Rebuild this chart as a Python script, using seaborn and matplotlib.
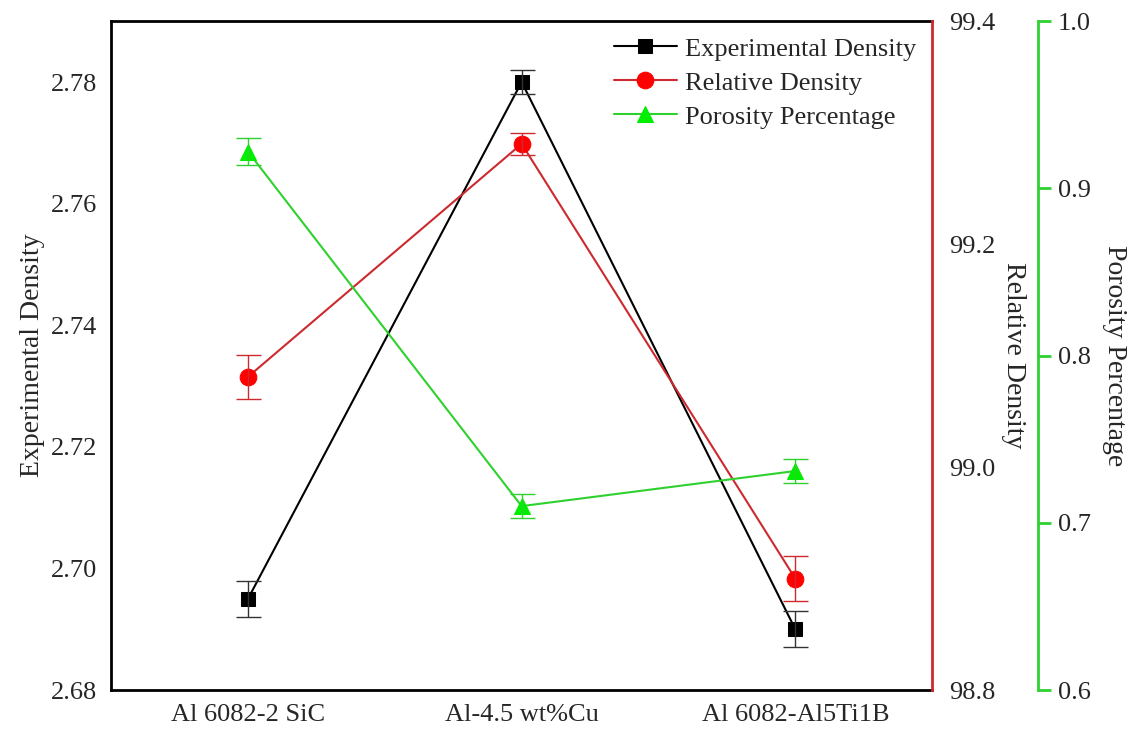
import matplotlib
matplotlib.use("Agg")
import matplotlib.pyplot as plt
import seaborn as sns
import pandas as pd

# --- data ---
samples = ["Al 6082-2 SiC", "Al-4.5 wt%Cu", "Al 6082-Al5Ti1B"]
exp_density = [2.695, 2.780, 2.690]
exp_err = [0.003, 0.002, 0.003]
rel_density = [99.081, 99.290, 98.900]
rel_err = [0.020, 0.010, 0.020]
porosity = [0.922, 0.710, 0.731]
por_err = [0.008, 0.007, 0.007]

df = pd.DataFrame({"pos": range(len(samples)), "sample": samples,
                   "exp": exp_density, "rel": rel_density, "por": porosity})

sns.set_style("white")
plt.rcParams["font.family"] = ["Liberation Serif", "DejaVu Serif"]

RED_LINE = "#cc2a2f"
GREEN_LINE = "#2ed12e"
TICK_FS = 19
LABEL_FS = 20

fig = plt.figure(figsize=(11.34, 7.31), dpi=100)
ax = fig.add_axes([0.098, 0.056, 0.724, 0.915])
ax2 = ax.twinx()
ax3 = ax.twinx()

# black series on the left axis
sns.lineplot(data=df, x="pos", y="exp", ax=ax, color="black", lw=1.5,
             marker="s", markersize=10, markeredgecolor="black", label="Experimental Density",
             legend=False)
ax.errorbar(df["pos"], df["exp"], yerr=exp_err, fmt="none", ecolor="#333333",
            elinewidth=1, capsize=9, capthick=1)

# red series on the first right axis
sns.lineplot(data=df, x="pos", y="rel", ax=ax2, color=RED_LINE, lw=1.5,
             marker="o", markersize=12, markerfacecolor="red", markeredgecolor="red",
             label="Relative Density", legend=False)
ax2.errorbar(df["pos"], df["rel"], yerr=rel_err, fmt="none", ecolor=RED_LINE,
             elinewidth=1, capsize=9, capthick=1)

# green series on the offset right axis
sns.lineplot(data=df, x="pos", y="por", ax=ax3, color=GREEN_LINE, lw=1.5,
             marker="^", markersize=12, markerfacecolor="#00ee00", markeredgecolor="#00ee00",
             label="Porosity Percentage", legend=False)
ax3.errorbar(df["pos"], df["por"], yerr=por_err, fmt="none", ecolor=GREEN_LINE,
             elinewidth=1, capsize=9, capthick=1)

# axes limits / ticks
ax.set_xlim(-0.5, 2.5)
ax.set_xticks(df["pos"])
ax.set_xticklabels(samples)
ax.set_ylim(2.68, 2.79)
ax.set_yticks([2.68, 2.70, 2.72, 2.74, 2.76, 2.78])
ax.set_yticklabels(["2.68", "2.70", "2.72", "2.74", "2.76", "2.78"])
ax.tick_params(axis="both", length=0, labelsize=TICK_FS, pad=10)
ax.set_xlabel("")
ax.set_ylabel("Experimental Density", fontsize=LABEL_FS, labelpad=4)

ax2.set_ylim(98.8, 99.4)
ax2.set_yticks([98.8, 99.0, 99.2, 99.4])
ax2.set_yticklabels(["98.8", "99.0", "99.2", "99.4"])
ax2.tick_params(axis="y", length=0, labelsize=TICK_FS, pad=12)
ax2.set_ylabel("Relative Density", fontsize=LABEL_FS, rotation=270, ha="center", va="center")
ax2.yaxis.set_label_coords(1.0987, 0.5)

ax3.set_ylim(0.6, 1.0)
ax3.set_yticks([0.6, 0.7, 0.8, 0.9, 1.0])
ax3.set_yticklabels(["0.6", "0.7", "0.8", "0.9", "1.0"])
ax3.spines["right"].set_position(("axes", 1.1295))
ax3.tick_params(axis="y", length=9, width=2, color=GREEN_LINE, direction="out",
                labelsize=TICK_FS, pad=5)
ax3.set_ylabel("Porosity Percentage", fontsize=LABEL_FS, rotation=270, ha="center", va="center")
ax3.yaxis.set_label_coords(1.222, 0.5)

for a in (ax, ax2, ax3):
    for s in a.spines.values():
        s.set_visible(False)
for side in ("left", "bottom", "top"):
    ax.spines[side].set_visible(True)
    ax.spines[side].set_color("black")
    ax.spines[side].set_linewidth(2)
ax2.spines["right"].set_visible(True)
ax2.spines["right"].set_color(RED_LINE)
ax2.spines["right"].set_linewidth(2)
ax3.spines["right"].set_visible(True)
ax3.spines["right"].set_color(GREEN_LINE)
ax3.spines["right"].set_linewidth(2)

handles = []
labels = []
for a in (ax, ax2, ax3):
    h, l = a.get_legend_handles_labels()
    handles += h
    labels += l
ax3.legend(handles, labels, loc="upper right", frameon=False, fontsize=TICK_FS,
           handlelength=2.4, handletextpad=0.3, labelspacing=0.4,
           borderaxespad=0.2, bbox_to_anchor=(1.0, 1.0))

fig.savefig("out.png", dpi=100)
